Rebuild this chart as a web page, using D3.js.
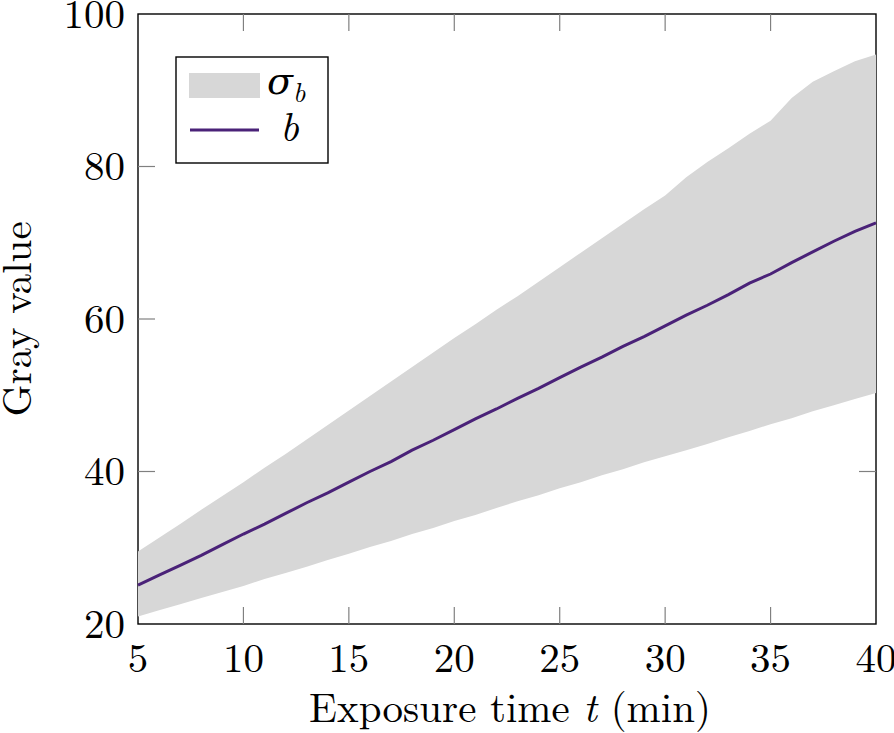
<!DOCTYPE html>
<html>
<head>
<meta charset="utf-8">
<script src="https://cdn.jsdelivr.net/npm/d3@7"></script>
<style>
  body { margin: 0; background: #fff; }
  svg text { font-family: "Latin Modern Roman", "CMU Serif", "DejaVu Serif", serif; fill: #000; }
</style>
</head>
<body>
<div id="grafico"></div>
<script>
// tempo de exposição (min)
const tempos = d3.range(5, 41);
// valor médio b
const valorB = [25.1, 26.4, 27.7, 29.0, 30.4, 31.8, 33.1, 34.5, 35.9, 37.2,
  38.6, 40.0, 41.3, 42.8, 44.1, 45.5, 46.9, 48.2, 49.6, 50.9,
  52.3, 53.7, 55.0, 56.4, 57.7, 59.1, 60.5, 61.8, 63.2, 64.7,
  65.9, 67.4, 68.8, 70.2, 71.5, 72.6];
// limites da faixa sigma_b
const limiteSup = [29.5, 31.3, 33.1, 35.0, 36.8, 38.6, 40.5, 42.3, 44.2, 46.1,
  48.0, 49.9, 51.8, 53.7, 55.6, 57.5, 59.3, 61.2, 63.0, 64.9,
  66.8, 68.7, 70.6, 72.5, 74.4, 76.2, 78.6, 80.6, 82.4, 84.3,
  86.0, 89.0, 91.1, 92.5, 93.8, 94.7];
const limiteInf = [21.0, 21.8, 22.6, 23.4, 24.2, 25.0, 25.9, 26.7, 27.5, 28.4,
  29.2, 30.1, 30.9, 31.8, 32.6, 33.5, 34.3, 35.2, 36.1, 36.9,
  37.8, 38.6, 39.5, 40.3, 41.2, 42.0, 42.8, 43.6, 44.5, 45.3,
  46.2, 47.0, 47.9, 48.7, 49.5, 50.3];
const ticksX = [5, 10, 15, 20, 25, 30, 35, 40];
const ticksY = [20, 40, 60, 80, 100];

const largura = 894, altura = 733;
const margem = { top: 14, right: 18, bottom: 109, left: 138 };
const corFaixa = "#d7d7d7";
const corLinha = "#4a2278";
const tamFonte = 41;

const svg = d3.select("#grafico").append("svg")
  .attr("width", largura)
  .attr("height", altura);

const x = d3.scaleLinear().domain([5, 40]).range([margem.left, largura - margem.right]);
const y = d3.scaleLinear().domain([20, 100]).range([altura - margem.bottom, margem.top]);

const dados = tempos.map((t, i) => ({ t, b: valorB[i], sup: limiteSup[i], inf: limiteInf[i] }));

// moldura
svg.append("rect")
  .attr("x", x(5)).attr("y", y(100))
  .attr("width", x(40) - x(5)).attr("height", y(20) - y(100))
  .style("fill", "none")
  .style("stroke", "#000")
  .style("stroke-width", 1.4);

// ticks internos (cinza) nos quatro lados
const tamTick = 17;
const g = svg.append("g").style("stroke", "#808080").style("stroke-width", 1.2);
ticksX.slice(1, -1).forEach(t => {
  g.append("line").attr("x1", x(t)).attr("x2", x(t)).attr("y1", y(20)).attr("y2", y(20) - tamTick);
  g.append("line").attr("x1", x(t)).attr("x2", x(t)).attr("y1", y(100)).attr("y2", y(100) + tamTick);
});
ticksY.slice(1, -1).forEach(v => {
  g.append("line").attr("x1", x(5)).attr("x2", x(5) + tamTick).attr("y1", y(v)).attr("y2", y(v));
  g.append("line").attr("x1", x(40)).attr("x2", x(40) - tamTick).attr("y1", y(v)).attr("y2", y(v));
});

// faixa sigma_b
const area = d3.area()
  .x(d => x(d.t))
  .y0(d => y(d.inf))
  .y1(d => y(d.sup));
svg.append("path")
  .datum(dados)
  .attr("d", area)
  .style("fill", corFaixa);

// linha b
const linha = d3.line().x(d => x(d.t)).y(d => y(d.b));
svg.append("path")
  .datum(dados)
  .attr("d", linha)
  .style("fill", "none")
  .style("stroke", corLinha)
  .style("stroke-width", 3);

// rótulos dos ticks
svg.selectAll(".rotulo-x")
  .data(ticksX)
  .enter().append("text")
  .attr("class", "rotulo-x")
  .attr("x", d => x(d))
  .attr("y", 672)
  .attr("text-anchor", "middle")
  .style("font-size", tamFonte + "px")
  .text(d => d);

svg.selectAll(".rotulo-y")
  .data(ticksY)
  .enter().append("text")
  .attr("class", "rotulo-y")
  .attr("x", 125)
  .attr("y", d => y(d))
  .attr("dy", "0.34em")
  .attr("text-anchor", "end")
  .style("font-size", tamFonte + "px")
  .text(d => d);

// títulos dos eixos
const tituloX = svg.append("text")
  .attr("x", (x(5) + x(40)) / 2 + 3)
  .attr("y", 722)
  .attr("text-anchor", "middle")
  .style("font-size", tamFonte + "px");
tituloX.append("tspan").text("Exposure time ");
tituloX.append("tspan").style("font-style", "italic").text("t");
tituloX.append("tspan").text(" (min)");

svg.append("text")
  .attr("transform", `translate(31, ${(y(20) + y(100)) / 2}) rotate(-90)`)
  .attr("text-anchor", "middle")
  .style("font-size", tamFonte + "px")
  .text("Gray value");

// legenda
const leg = svg.append("g").attr("transform", "translate(176, 57)");
leg.append("rect")
  .attr("width", 152).attr("height", 106)
  .style("fill", "#fff")
  .style("stroke", "#000")
  .style("stroke-width", 1.4);
leg.append("rect")
  .attr("x", 13).attr("y", 16)
  .attr("width", 71).attr("height", 25)
  .style("fill", corFaixa);
leg.append("line")
  .attr("x1", 14).attr("x2", 83)
  .attr("y1", 73).attr("y2", 73)
  .style("stroke", corLinha)
  .style("stroke-width", 3);
const sig = leg.append("text")
  .attr("x", 91).attr("y", 37)
  .style("font-size", "38px")
  .style("font-style", "italic");
sig.append("tspan").text("σ");
sig.append("tspan").attr("dy", 8).style("font-size", "27px").text("b");
leg.append("text")
  .attr("x", 104).attr("y", 84)
  .style("font-size", tamFonte + "px")
  .style("font-style", "italic")
  .text("b");
</script>
</body>
</html>
